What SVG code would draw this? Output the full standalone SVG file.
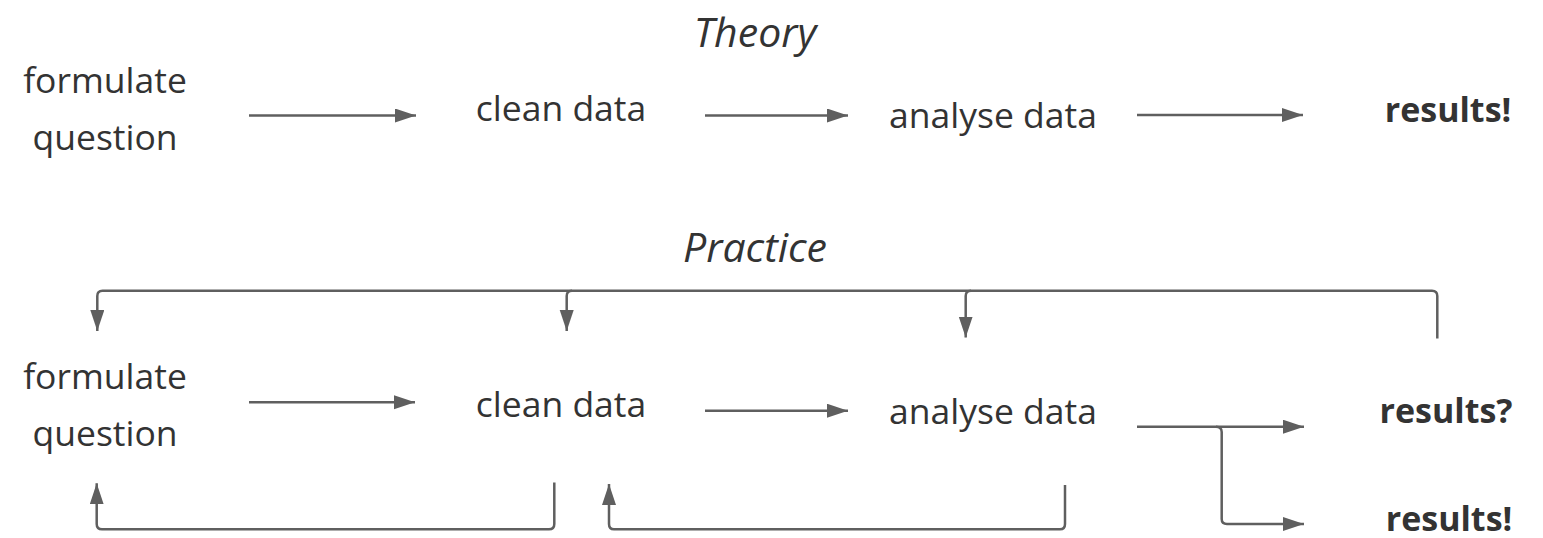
<svg xmlns="http://www.w3.org/2000/svg" width="1543" height="538" viewBox="0 0 1543 538">
  <defs>
    <marker id="arrow" markerUnits="userSpaceOnUse" markerWidth="22" markerHeight="15" refX="21" refY="7" orient="auto">
      <path d="M0,0 L21,7 L0,14 z" fill="#5f5f5f"/>
    </marker>
    <style>
      .lbl { font-family: "Open Sans", "Liberation Sans", sans-serif; font-size: 35.5px; fill: #333333; text-anchor: middle; }
      .bold { font-weight: bold; font-size: 34px; }
      .title { font-style: italic; font-size: 41px; }
      .edge { fill: none; stroke: #5f5f5f; stroke-width: 2.5; }
      .arr { marker-end: url(#arrow); }
    </style>
  </defs>
  <rect width="1543" height="538" fill="#ffffff"/>

  <!-- Section titles -->
  <text class="lbl title" x="755" y="47">Theory</text>
  <text class="lbl title" x="755" y="262">Practice</text>

  <!-- Theory row -->
  <g id="t-formulate"><text class="lbl" x="105" y="93">formulate</text><text class="lbl" x="105" y="150">question</text></g>
  <g id="t-clean"><text class="lbl" x="561" y="121">clean data</text></g>
  <g id="t-analyse"><text class="lbl" x="993" y="128">analyse data</text></g>
  <g id="t-results"><text class="lbl bold" x="1448" y="122">results!</text></g>

  <!-- Practice row -->
  <g id="p-formulate"><text class="lbl" x="105" y="389">formulate</text><text class="lbl" x="105" y="446">question</text></g>
  <g id="p-clean"><text class="lbl" x="561" y="417">clean data</text></g>
  <g id="p-analyse"><text class="lbl" x="993" y="424">analyse data</text></g>
  <g id="p-results-q"><text class="lbl bold" x="1446" y="423">results?</text></g>
  <g id="p-results-x"><text class="lbl bold" x="1449" y="531">results!</text></g>

  <g id="connectors">
    <!-- Theory flow -->
    <path class="edge arr" d="M249,115.5 L416,115.5"/>
    <path class="edge arr" d="M705,115.5 L848,115.5"/>
    <path class="edge arr" d="M1137,115 L1303,115"/>

    <!-- Practice forward flow -->
    <path class="edge arr" d="M249,402.3 L415,402.3"/>
    <path class="edge arr" d="M705,410.7 L848,410.7"/>
    <path class="edge arr" d="M1137,426.7 L1304,426.7"/>
    <path class="edge arr" d="M1216,426.7 Q1221.7,426.7 1221.7,432 L1221.7,519 Q1221.7,524 1227,524 L1304,524"/>

    <!-- Feedback bus from results back to earlier steps -->
    <path class="edge arr" d="M1437.3,338.5 L1437.3,296 Q1437.3,290.7 1432,290.7 L102.5,290.7 Q97.3,290.7 97.3,296 L97.3,331"/>
    <path class="edge arr" d="M572,290.7 Q566.7,290.7 566.7,296 L566.7,331"/>
    <path class="edge arr" d="M971,290.7 Q965.7,290.7 965.7,296 L965.7,337.5"/>

    <!-- Loops back underneath -->
    <path class="edge arr" d="M554.3,482.5 L554.3,524 Q554.3,529.3 549,529.3 L102,529.3 Q96.7,529.3 96.7,524 L96.7,483.3"/>
    <path class="edge arr" d="M1065,485 L1065,524 Q1065,529.3 1060,529.3 L614,529.3 Q609,529.3 609,524 L609,484"/>
  </g>
</svg>
